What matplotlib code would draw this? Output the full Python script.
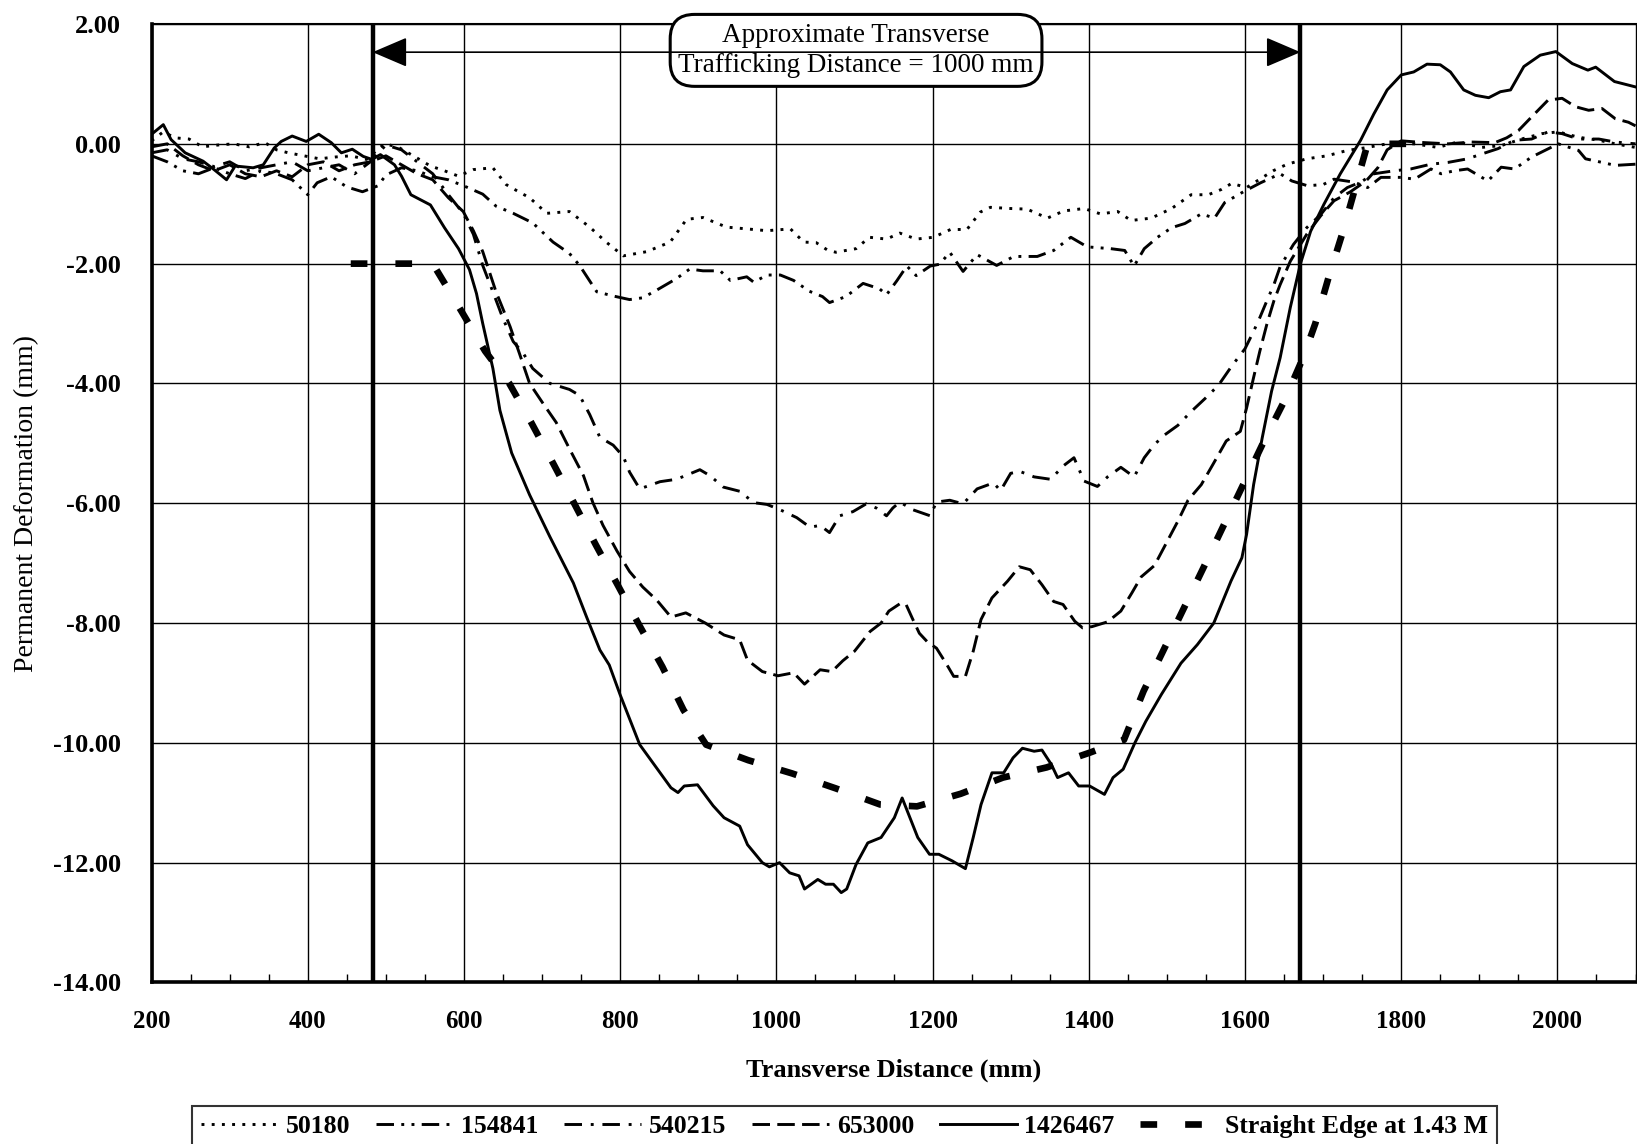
import matplotlib
matplotlib.use("Agg")
import matplotlib.pyplot as plt
from matplotlib.patches import FancyArrowPatch
from matplotlib.ticker import MultipleLocator

plt.rcParams['font.family'] = ['Liberation Serif', 'DejaVu Serif']

# Transverse profiles (mm)
X_50180 = [200, 215, 230, 248, 265, 285, 305, 325, 345, 360, 375, 395, 415, 435, 455, 475, 498, 515, 539, 557,
           575, 593, 612, 637, 654, 670, 684, 706, 735, 761, 782, 804, 834, 864, 885, 906, 936, 962, 988, 1018,
           1035, 1051, 1065, 1076, 1102, 1119, 1141, 1158, 1179, 1201, 1223, 1244, 1261, 1274, 1300, 1321, 1347,
           1368, 1394, 1415, 1437, 1454, 1480, 1506, 1531, 1553, 1570, 1583, 1602, 1619, 1636, 1654, 1679, 1705,
           1731, 1752, 1782, 1817, 1847, 1872, 1903, 1928, 1954, 1980, 2001, 2027, 2053, 2074, 2100]
Y_50180 = [0.05, 0.2, 0.1, 0.08, -0.05, -0.02, 0.0, -0.05, 0.02, -0.1, -0.15, -0.2, -0.25, -0.22, -0.2, -0.26,
           0.0, -0.05, -0.23, -0.37, -0.45, -0.54, -0.43, -0.4, -0.68, -0.8, -0.9, -1.16, -1.13, -1.39, -1.64,
           -1.87, -1.8, -1.64, -1.26, -1.23, -1.39, -1.42, -1.45, -1.42, -1.64, -1.65, -1.77, -1.81, -1.75, -1.56,
           -1.59, -1.49, -1.59, -1.56, -1.43, -1.43, -1.14, -1.06, -1.08, -1.09, -1.24, -1.12, -1.08, -1.17, -1.13,
           -1.28, -1.24, -1.08, -0.85, -0.85, -0.76, -0.66, -0.73, -0.59, -0.45, -0.34, -0.25, -0.2, -0.11, -0.07,
           0.0, 0.0, -0.06, 0.03, -0.06, -0.03, 0.08, 0.17, 0.2, 0.11, 0.06, 0.0, -0.06]

X_154841 = [200, 220, 240, 260, 280, 300, 320, 340, 360, 380, 400, 412, 430, 450, 470, 490, 500, 520, 540, 560,
            580, 603, 624, 641, 663, 688, 714, 735, 748, 770, 791, 812, 829, 847, 872, 889, 906, 928, 941, 962,
            971, 988, 1005, 1022, 1042, 1059, 1068, 1089, 1111, 1132, 1141, 1154, 1167, 1179, 1197, 1209, 1222,
            1239, 1257, 1282, 1304, 1334, 1355, 1377, 1398, 1428, 1446, 1458, 1471, 1488, 1506, 1523, 1544, 1561,
            1574, 1598, 1620, 1645, 1660, 1680, 1700, 1714, 1740, 1757, 1774, 1800, 1817, 1838, 1851, 1868, 1885,
            1911, 1928, 1945, 1967, 1984, 2001, 2027, 2036, 2057, 2074, 2100]
Y_154841 = [-0.2, -0.3, -0.45, -0.5, -0.4, -0.5, -0.58, -0.45, -0.5, -0.6, -0.85, -0.65, -0.55, -0.72, -0.8,
            -0.7, -0.52, -0.4, -0.45, -0.55, -0.6, -0.72, -0.84, -1.04, -1.16, -1.32, -1.64, -1.83, -2.03, -2.47,
            -2.54, -2.6, -2.57, -2.44, -2.25, -2.09, -2.12, -2.12, -2.28, -2.22, -2.31, -2.19, -2.19, -2.28, -2.46,
            -2.55, -2.65, -2.55, -2.33, -2.42, -2.52, -2.29, -2.04, -2.2, -2.04, -2.01, -1.81, -2.13, -1.85, -2.03,
            -1.88, -1.88, -1.78, -1.56, -1.72, -1.75, -1.78, -2.04, -1.75, -1.56, -1.4, -1.33, -1.17, -1.24, -0.98,
            -0.8, -0.65, -0.5, -0.62, -0.7, -0.68, -0.59, -0.64, -0.73, -0.56, -0.56, -0.59, -0.42, -0.5, -0.45,
            -0.42, -0.62, -0.39, -0.42, -0.22, -0.11, 0.0, -0.11, -0.25, -0.31, -0.36, -0.34]

X_540215 = [200, 220, 240, 260, 280, 300, 320, 340, 360, 380, 400, 420, 440, 460, 480, 500, 520, 540, 560, 580,
            599, 612, 624, 637, 650, 663, 676, 688, 710, 735, 748, 761, 774, 791, 804, 812, 825, 851, 872, 889,
            902, 915, 932, 953, 971, 988, 1005, 1026, 1043, 1056, 1068, 1081, 1098, 1115, 1128, 1141, 1149, 1158,
            1175, 1197, 1205, 1222, 1239, 1257, 1278, 1287, 1300, 1312, 1330, 1351, 1368, 1381, 1394, 1411, 1424,
            1441, 1458, 1471, 1484, 1497, 1514, 1531, 1549, 1566, 1583, 1600, 1611, 1619, 1628, 1637, 1645, 1662,
            1679, 1697, 1714, 1731, 1748, 1765, 1791, 1812, 1838, 1860, 1885, 1903, 1924, 1945, 1967, 1988, 2006,
            2027, 2053, 2074, 2100]
Y_540215 = [-0.15, -0.1, -0.25, -0.3, -0.38, -0.3, -0.45, -0.4, -0.35, -0.3, -0.45, -0.4, -0.35, -0.5, -0.3,
            -0.02, -0.1, -0.3, -0.5, -0.85, -1.16, -1.51, -2.03, -2.47, -2.92, -3.3, -3.5, -3.75, -4.0, -4.1, -4.2,
            -4.52, -4.9, -5.03, -5.22, -5.48, -5.76, -5.64, -5.6, -5.51, -5.44, -5.54, -5.73, -5.8, -5.99, -6.02,
            -6.11, -6.24, -6.4, -6.37, -6.49, -6.21, -6.14, -6.01, -6.08, -6.21, -6.08, -5.98, -6.11, -6.21, -5.98,
            -5.95, -6.01, -5.76, -5.66, -5.79, -5.5, -5.47, -5.56, -5.6, -5.37, -5.24, -5.63, -5.72, -5.56, -5.4,
            -5.56, -5.24, -5.02, -4.86, -4.7, -4.47, -4.25, -4.03, -3.71, -3.42, -3.13, -2.9, -2.62, -2.35, -2.05,
            -1.68, -1.4, -1.18, -0.9, -0.73, -0.64, -0.5, -0.45, -0.42, -0.34, -0.31, -0.25, -0.17, -0.08, 0.06,
            0.08, 0.2, 0.17, 0.08, 0.08, 0.03, 0.0]

X_653000 = [200, 220, 240, 260, 280, 300, 320, 340, 360, 380, 400, 420, 440, 460, 480, 500, 520, 540, 560, 580,
            599, 612, 624, 641, 659, 671, 684, 701, 718, 735, 753, 765, 778, 796, 812, 829, 847, 865, 884, 909,
            933, 953, 963, 982, 1002, 1022, 1036, 1056, 1071, 1085, 1100, 1120, 1134, 1144, 1159, 1166, 1174,
            1183, 1193, 1205, 1218, 1227, 1242, 1252, 1262, 1276, 1296, 1311, 1325, 1340, 1355, 1367, 1382, 1392,
            1404, 1424, 1441, 1455, 1467, 1484, 1497, 1514, 1527, 1544, 1559, 1576, 1594, 1602, 1611, 1619, 1628,
            1637, 1645, 1658, 1679, 1697, 1714, 1735, 1755, 1770, 1782, 1800, 1830, 1860, 1890, 1920, 1935, 1950,
            1967, 1988, 2006, 2023, 2040, 2057, 2074, 2091, 2100]
Y_653000 = [-0.05, 0.0, -0.2, -0.35, -0.45, -0.35, -0.5, -0.55, -0.45, -0.55, -0.35, -0.3, -0.45, -0.35, -0.3,
            -0.2, -0.35, -0.5, -0.6, -0.9, -1.13, -1.45, -1.8, -2.47, -3.05, -3.5, -4.0, -4.33, -4.65, -5.09,
            -5.54, -5.99, -6.37, -6.8, -7.14, -7.4, -7.62, -7.9, -7.83, -8.0, -8.2, -8.28, -8.62, -8.81, -8.88,
            -8.83, -9.02, -8.78, -8.81, -8.63, -8.47, -8.14, -8.0, -7.8, -7.67, -7.69, -7.92, -8.17, -8.31, -8.42,
            -8.69, -8.89, -8.89, -8.47, -7.94, -7.58, -7.3, -7.06, -7.11, -7.36, -7.64, -7.69, -7.97, -8.08, -8.06,
            -7.98, -7.8, -7.5, -7.23, -7.04, -6.72, -6.3, -5.95, -5.69, -5.35, -4.96, -4.8, -4.41, -3.9, -3.46,
            -3.01, -2.62, -2.35, -1.96, -1.51, -1.2, -0.95, -0.8, -0.62, -0.4, -0.1, 0.05, 0.02, 0.0, 0.03, 0.02,
            0.1, 0.22, 0.45, 0.73, 0.76, 0.62, 0.56, 0.59, 0.42, 0.36, 0.3]

X_1426467 = [200, 215, 225, 243, 266, 280, 296, 307, 330, 343, 357, 366, 380, 398, 414, 430, 443, 457, 471, 482,
             493, 511, 520, 532, 557, 575, 593, 607, 616, 624, 637, 646, 661, 684, 710, 740, 757, 774, 786, 800,
             825, 840, 865, 874, 882, 899, 919, 933, 953, 963, 982, 991, 1004, 1017, 1029, 1036, 1053, 1063, 1073,
             1083, 1090, 1102, 1117, 1134, 1151, 1161, 1171, 1181, 1196, 1208, 1225, 1242, 1252, 1262, 1276, 1291,
             1303, 1315, 1330, 1340, 1352, 1360, 1374, 1387, 1401, 1420, 1431, 1444, 1459, 1473, 1493, 1518, 1539,
             1560, 1582, 1596, 1602, 1611, 1622, 1634, 1645, 1658, 1671, 1684, 1701, 1722, 1748, 1765, 1782, 1800,
             1816, 1833, 1850, 1863, 1880, 1895, 1912, 1927, 1940, 1957, 1978, 1998, 2019, 2039, 2049, 2073, 2100]
Y_1426467 = [0.16, 0.32, 0.07, -0.15, -0.29, -0.43, -0.6, -0.37, -0.4, -0.35, -0.07, 0.04, 0.13, 0.04, 0.16, 0.02,
             -0.15, -0.09, -0.21, -0.26, -0.18, -0.35, -0.54, -0.85, -1.02, -1.4, -1.75, -2.1, -2.5, -3.0, -3.75,
             -4.45, -5.16, -5.86, -6.56, -7.33, -7.9, -8.45, -8.7, -9.2, -10.03, -10.3, -10.75, -10.83, -10.72,
             -10.7, -11.05, -11.25, -11.39, -11.7, -12.0, -12.07, -12.0, -12.17, -12.22, -12.44, -12.28, -12.36,
             -12.36, -12.5, -12.44, -12.03, -11.67, -11.58, -11.25, -10.92, -11.25, -11.58, -11.86, -11.86, -11.97,
             -12.1, -11.58, -11.03, -10.5, -10.5, -10.25, -10.09, -10.14, -10.12, -10.36, -10.58, -10.5, -10.72,
             -10.72, -10.86, -10.58, -10.44, -10.0, -9.64, -9.19, -8.67, -8.36, -8.0, -7.3, -6.91, -6.52, -5.69,
             -4.91, -4.13, -3.57, -2.73, -2.0, -1.46, -1.01, -0.5, 0.06, 0.5, 0.9, 1.15, 1.2, 1.33, 1.32, 1.2, 0.9,
             0.81, 0.77, 0.87, 0.9, 1.29, 1.48, 1.54, 1.34, 1.23, 1.28, 1.04, 0.95]

X_EDGE = [455, 560, 597, 627, 658, 686, 714, 741, 769, 797, 825, 854, 881, 910, 964, 1020, 1076, 1133, 1180, 1236,
          1290, 1346, 1402, 1445, 1470, 1495, 1521, 1547, 1573, 1598, 1624, 1650, 1675, 1690, 1707, 1725, 1757, 1817]
Y_EDGE = [-2.0, -2.0, -2.8, -3.46, -4.0, -4.65, -5.33, -6.0, -6.7, -7.37, -8.05, -8.73, -9.45, -10.03, -10.29,
          -10.51, -10.76, -11.03, -11.06, -10.85, -10.58, -10.41, -10.16, -9.95, -9.14, -8.47, -7.77, -7.07, -6.36,
          -5.68, -4.97, -4.3, -3.55, -3.0, -2.23, -1.48, 0.0, 0.0]

TRAFFIC_EDGES = [483, 1671]
YTICKS = [2, 0, -2, -4, -6, -8, -10, -12, -14]
XTICKS = [200, 400, 600, 800, 1000, 1200, 1400, 1600, 1800, 2000]


def main():
    fig = plt.figure(figsize=(16.37, 11.44), dpi=100)
    ax = fig.add_axes([0.0926, 0.1412, 0.9065, 0.8378])

    lw = 2.1
    ax.plot(X_50180, Y_50180, color='black', lw=lw, linestyle=(0, (1, 2.5)), label='50180', zorder=4)
    ax.plot(X_154841, Y_154841, color='black', lw=lw, linestyle=(0, (6, 2.5, 1, 2.5, 1, 2.5)),
            label='154841', zorder=4)
    ax.plot(X_540215, Y_540215, color='black', lw=lw, linestyle=(0, (6, 3, 1, 3)), label='540215', zorder=4)
    ax.plot(X_653000, Y_653000, color='black', lw=lw, linestyle=(0, (6, 2.5)), label='653000', zorder=4)
    ax.plot(X_1426467, Y_1426467, color='black', lw=lw, linestyle='-', label='1426467', zorder=4)
    ax.plot(X_EDGE, Y_EDGE, color='black', lw=4.8, linestyle=(0, (2.5, 4.2)), dash_capstyle='butt',
            label='Straight Edge at 1.43 M', zorder=4)

    for xe in TRAFFIC_EDGES:
        ax.axvline(xe, color='black', lw=3.2, zorder=5)

    # annotation box and arrow
    ax.text(1102, 1.56, "Approximate Transverse\nTrafficking Distance = 1000 mm", ha='center', va='center',
            fontsize=19.5, linespacing=1.3, zorder=6, clip_on=False,
            bbox=dict(boxstyle='round,pad=0.3,rounding_size=0.9', fc='white', ec='black', lw=2.2))
    arrow = FancyArrowPatch((TRAFFIC_EDGES[0], 1.53), (TRAFFIC_EDGES[1], 1.53),
                            arrowstyle='<|-|>,head_length=1.1,head_width=0.47', mutation_scale=20,
                            lw=1.2, color='black', shrinkA=0, shrinkB=0, zorder=7)
    ax.add_patch(arrow)

    ax.set_xlim(200, 2100)
    ax.set_ylim(-14, 2)
    ax.set_xticks(XTICKS)
    ax.set_xticklabels([str(v) for v in XTICKS], fontsize=18, fontweight='bold')
    ax.set_yticks(YTICKS)
    ax.set_yticklabels([f"{v:.2f}" for v in YTICKS], fontsize=19, fontweight='bold')
    ax.xaxis.set_minor_locator(MultipleLocator(50))
    ax.tick_params(axis='x', which='minor', direction='in', length=6, width=1)
    ax.tick_params(axis='x', which='major', length=0, pad=20)
    ax.tick_params(axis='y', which='major', length=0, pad=22)
    ax.grid(True, which='major', color='black', lw=1.0, zorder=1)
    ax.set_axisbelow(True)

    ax.spines['left'].set_linewidth(2.6)
    ax.spines['bottom'].set_linewidth(2.6)
    ax.spines['top'].set_linewidth(1.5)
    ax.spines['right'].set_linewidth(1.0)

    ax.set_xlabel("Transverse Distance (mm)", fontsize=19, fontweight='bold', labelpad=18)
    ax.set_ylabel("Permanent Deformation (mm)", fontsize=20, labelpad=10)

    handles, labels = ax.get_legend_handles_labels()
    leg = fig.legend(handles, labels, loc='lower center', bbox_to_anchor=(0.516, -0.014), ncol=6,
                     frameon=True, fancybox=False, edgecolor='black', handlelength=3.0,
                     columnspacing=1.0, handletextpad=0.3, borderpad=0.35,
                     prop={'weight': 'bold', 'size': 18.5})
    leg.get_frame().set_linewidth(1.5)

    fig.savefig("out.png", dpi=100)


if __name__ == "__main__":
    main()
